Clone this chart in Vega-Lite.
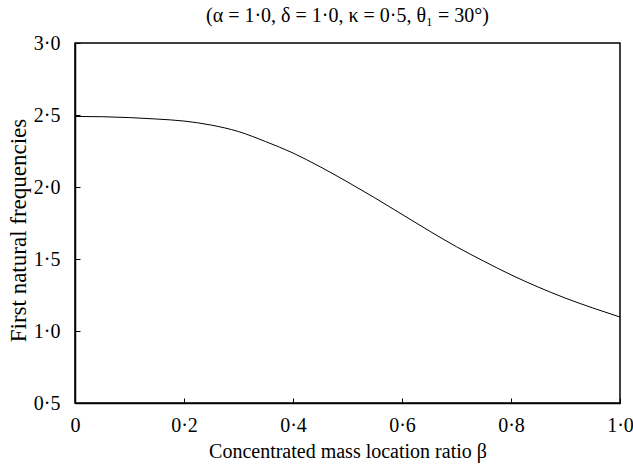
{
  "$schema": "https://vega.github.io/schema/vega-lite/v6.json",
  "width": 545,
  "height": 360,
  "autosize": {"type": "none"},
  "padding": {"left": 75, "top": 43, "right": 13, "bottom": 65},
  "background": "white",
  "config": {
    "font": "Liberation Serif",
    "view": {"stroke": "black", "strokeWidth": 1.5},
    "axis": {
      "grid": false,
      "domainColor": "black",
      "domainWidth": 1.5,
      "tickColor": "black",
      "tickWidth": 1,
      "labelColor": "black",
      "titleColor": "black",
      "labelFont": "Liberation Serif",
      "titleFont": "Liberation Serif",
      "labelFontSize": 20,
      "titleFontSize": 20,
      "titleFontWeight": "normal",
      "labelFlush": false,
      "labelOverlap": false
    }
  },
  "title": {
    "text": "(α = 1·0, δ = 1·0, κ = 0·5, θ₁ = 30°)",
    "font": "Liberation Serif",
    "fontSize": 20,
    "fontWeight": "normal",
    "color": "black",
    "anchor": "middle",
    "offset": 7
  },
  "data": {
    "values": [
      {"beta": 0.0, "f": 2.49},
      {"beta": 0.05, "f": 2.488},
      {"beta": 0.1, "f": 2.482},
      {"beta": 0.15, "f": 2.472},
      {"beta": 0.2, "f": 2.458},
      {"beta": 0.25, "f": 2.43},
      {"beta": 0.3, "f": 2.385},
      {"beta": 0.35, "f": 2.315},
      {"beta": 0.4, "f": 2.236},
      {"beta": 0.45, "f": 2.14},
      {"beta": 0.5, "f": 2.035},
      {"beta": 0.55, "f": 1.925},
      {"beta": 0.6, "f": 1.81},
      {"beta": 0.65, "f": 1.695},
      {"beta": 0.7, "f": 1.585},
      {"beta": 0.75, "f": 1.485},
      {"beta": 0.8, "f": 1.39},
      {"beta": 0.85, "f": 1.305},
      {"beta": 0.9, "f": 1.228},
      {"beta": 0.95, "f": 1.16},
      {"beta": 1.0, "f": 1.097}
    ]
  },
  "mark": {"type": "line", "color": "black", "strokeWidth": 1, "interpolate": "monotone"},
  "encoding": {
    "x": {
      "field": "beta",
      "type": "quantitative",
      "scale": {"domain": [0, 1], "nice": false, "zero": false},
      "axis": {
        "title": "Concentrated mass location ratio β",
        "values": [0, 0.2, 0.4, 0.6, 0.8, 1.0],
        "labelExpr": "datum.value == 0 ? '0' : replace(format(datum.value, '.1f'), '.', '·')",
        "labelFont": "Liberation Serif",
        "tickSize": -5,
        "labelPadding": 17,
        "titlePadding": 6
      }
    },
    "y": {
      "field": "f",
      "type": "quantitative",
      "scale": {"domain": [0.5, 3.0], "nice": false, "zero": false},
      "axis": {
        "title": "First natural frequencies",
        "titleFontSize": 23,
        "values": [0.5, 1.0, 1.5, 2.0, 2.5, 3.0],
        "labelExpr": "replace(format(datum.value, '.1f'), '.', '·')",
        "labelFont": "Liberation Serif",
        "tickSize": -5,
        "labelPadding": 20,
        "titlePadding": 3,
        "titleY": 187
      }
    }
  }
}
